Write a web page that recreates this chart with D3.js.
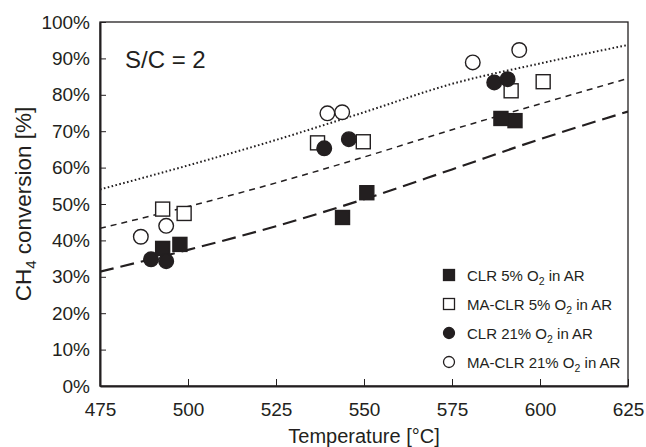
<!DOCTYPE html>
<html><head><meta charset="utf-8">
<script src="https://cdn.jsdelivr.net/npm/d3@7"></script>
<style>body{margin:0;background:#fff}svg{display:block}text{font-family:"Liberation Sans",Arial,sans-serif;fill:#231f20}</style>
</head><body><div id="c"></div>
<script>
// ---- data ----
const xTicks = [475, 500, 525, 550, 575, 600, 625];
const yTicks = [0, 10, 20, 30, 40, 50, 60, 70, 80, 90, 100];

const clr5T   = [492.8, 497.7, 543.9, 550.8, 588.9, 592.9];
const clr5V   = [37.8, 38.9, 46.3, 53.1, 73.5, 72.9];
const maclr5T = [492.8, 498.9, 536.8, 549.8, 591.8, 600.9];
const maclr5V = [48.6, 47.4, 66.8, 67.1, 81.1, 83.6];
const clr21T  = [489.5, 493.8, 538.7, 545.7, 587.0, 590.8];
const clr21V  = [34.8, 34.3, 65.3, 67.8, 83.4, 84.3];
const maclr21T= [486.6, 493.8, 539.6, 543.8, 580.9, 594.1];
const maclr21V= [41.0, 44.0, 74.9, 75.2, 88.9, 92.3];

const modelT      = [475, 500, 525, 550, 575, 600, 625];
const modelLong   = [31.4, 37.4, 43.9, 51.3, 59.5, 67.8, 75.4];
const modelShort  = [43.3, 49.3, 55.8, 62.9, 70.4, 77.5, 84.5];
const modelDotted = [54.0, 60.6, 67.6, 75.2, 83.0, 88.6, 93.7];

const legendLabels = [["CLR 5% O", "2", " in AR"], ["MA-CLR 5% O", "2", " in AR"], ["CLR 21% O", "2", " in AR"], ["MA-CLR 21% O", "2", " in AR"]];

// ---- chart ----
const W = 646, H = 447;
const m = {l: 100, r: 18, t: 22, b: 61};
const svg = d3.select("#c").append("svg").attr("width", W).attr("height", H);
const x = d3.scaleLinear().domain([475, 625]).range([m.l, W - m.r]);
const y = d3.scaleLinear().domain([0, 100]).range([H - m.b, m.t]);
const ink = "#231f20";

// frame
svg.append("rect").attr("x", x(475)).attr("y", y(100)).attr("width", x(625) - x(475)).attr("height", y(0) - y(100))
  .attr("fill", "none").attr("stroke", ink).attr("stroke-width", 1.3);

// axes
const xa = svg.append("g").attr("transform", `translate(0,${y(0)})`)
  .call(d3.axisBottom(x).tickValues(xTicks).tickSizeInner(-7).tickSizeOuter(0).tickPadding(17).tickFormat(d3.format("d")));
xa.select(".domain").attr("stroke", ink).attr("stroke-width", 2);
xa.selectAll(".tick line").attr("stroke", ink).attr("stroke-width", 1);
xa.selectAll(".tick text").attr("font-size", 19).attr("fill", ink).attr("dy", "0.71em").style("font-family", '"Liberation Sans",Arial,sans-serif');

const ya = svg.append("g").attr("transform", `translate(${x(475)},0)`)
  .call(d3.axisLeft(y).tickValues(yTicks).tickSizeInner(-6).tickSizeOuter(0).tickPadding(10).tickFormat(d => d + "%"));
ya.select(".domain").attr("stroke", ink).attr("stroke-width", 2);
ya.selectAll(".tick line").attr("stroke", ink).attr("stroke-width", 1);
ya.selectAll(".tick text").attr("font-size", 19).attr("fill", ink).style("font-family", '"Liberation Sans",Arial,sans-serif');

// model lines
const line = d3.line().x(d => x(d[0])).y(d => y(d[1])).curve(d3.curveMonotoneX);
const clip = svg.append("clipPath").attr("id", "clp").append("rect")
  .attr("x", x(475)).attr("y", y(100)).attr("width", x(625) - x(475)).attr("height", y(0) - y(100));
const lg = svg.append("g").attr("clip-path", "url(#clp)");
lg.append("path").datum(modelT.map((t, i) => [t, modelLong[i]])).attr("d", line)
  .attr("fill", "none").attr("stroke", ink).attr("stroke-width", 2.2).attr("stroke-dasharray", "14,7");
lg.append("path").datum(modelT.map((t, i) => [t, modelShort[i]])).attr("d", line)
  .attr("fill", "none").attr("stroke", ink).attr("stroke-width", 1.5).attr("stroke-dasharray", "6,5");
lg.append("path").datum(modelT.map((t, i) => [t, modelDotted[i]])).attr("d", line)
  .attr("fill", "none").attr("stroke", ink).attr("stroke-width", 2).attr("stroke-dasharray", "1.6,2.4");

// markers
const S = 14, R = 7.3;
function squares(T, V, filled) {
  svg.append("g").selectAll("rect").data(T.map((t, i) => [t, V[i]])).join("rect")
    .attr("x", d => x(d[0]) - S / 2).attr("y", d => y(d[1]) - S / 2).attr("width", S).attr("height", S)
    .attr("fill", filled ? ink : "#fff").attr("stroke", ink).attr("stroke-width", 1.4);
}
function circles(T, V, filled) {
  svg.append("g").selectAll("circle").data(T.map((t, i) => [t, V[i]])).join("circle")
    .attr("cx", d => x(d[0])).attr("cy", d => y(d[1])).attr("r", R)
    .attr("fill", filled ? ink : "#fff").attr("stroke", ink).attr("stroke-width", 1.4);
}
squares(maclr5T, maclr5V, false);
circles(maclr21T, maclr21V, false);
squares(clr5T, clr5V, true);
circles(clr21T, clr21V, true);

// S/C label
svg.append("text").attr("x", 125).attr("y", 68).attr("font-size", 24).text("S/C = 2");

// legend
const lgY = [281, 310, 339, 368];
const leg = svg.append("g");
legendLabels.forEach((lab, i) => {
  const cy = lgY[i] - 6, cx = 449;
  if (i < 2) leg.append("rect").attr("x", cx - 5.5).attr("y", cy - 5.5).attr("width", 11).attr("height", 11)
      .attr("fill", i === 0 ? ink : "#fff").attr("stroke", ink).attr("stroke-width", 1.3);
  else leg.append("circle").attr("cx", cx).attr("cy", cy).attr("r", 5.5)
      .attr("fill", i === 2 ? ink : "#fff").attr("stroke", ink).attr("stroke-width", 1.3);
  const t = leg.append("text").attr("x", 467).attr("y", lgY[i]).attr("font-size", 15);
  t.append("tspan").text(lab[0]);
  t.append("tspan").attr("font-size", 10.5).attr("dy", 4).text(lab[1]);
  t.append("tspan").attr("dy", -4).text(lab[2]);
});

// axis titles
svg.append("text").attr("x", (x(475) + x(625)) / 2).attr("y", 443).attr("text-anchor", "middle").attr("font-size", 20).text("Temperature [°C]");
const yt = svg.append("text").attr("transform", `translate(31,${(y(0) + y(100)) / 2}) rotate(-90)`).attr("text-anchor", "middle").attr("font-size", 22.5);
yt.append("tspan").text("CH");
yt.append("tspan").attr("font-size", 15).attr("dy", 5).text("4");
yt.append("tspan").attr("dy", -5).text(" conversion [%]");
</script></body></html>
